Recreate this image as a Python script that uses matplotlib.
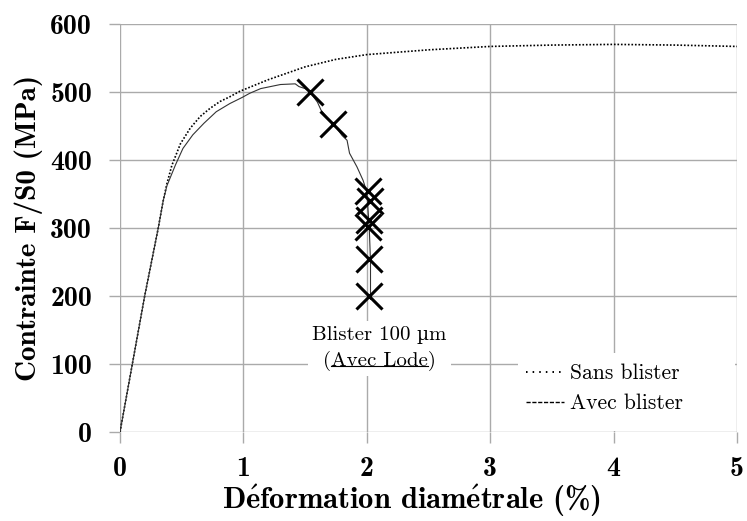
import numpy as np
import matplotlib
matplotlib.use('Agg')
import matplotlib.pyplot as plt
from matplotlib.lines import Line2D
from matplotlib.patches import Rectangle
from matplotlib.offsetbox import TextArea, HPacker, VPacker, AnnotationBbox

plt.rcParams['axes.unicode_minus'] = False
plt.rcParams['axes.formatter.use_mathtext'] = True
plt.rcParams['mathtext.fontset'] = 'custom'
plt.rcParams['mathtext.rm'] = 'cmb10'
plt.rcParams['mathtext.bf'] = 'cmb10'
plt.rcParams['mathtext.fallback'] = 'cm'

BOLD = ['cmb10', 'DejaVu Serif']
REG = ['cmr10', 'DejaVu Serif']

# courbe sans blister (pointillés)
sans_x = [0, 0.10, 0.20, 0.31, 0.35, 0.38, 0.42, 0.49, 0.57, 0.65, 0.73, 0.81,
          0.89, 0.97, 1.2, 1.5, 1.75, 2.0, 2.5, 3.0, 3.5, 4.0, 4.5, 5.0]
sans_y = [0, 100, 200, 300, 340, 365, 392, 424, 447, 464, 476, 486,
          493, 501, 518, 537, 548, 555, 562, 567, 569, 570, 569, 567]

# courbe avec blister (trait fin)
avec_x = [0, 0.10, 0.20, 0.31, 0.35, 0.38, 0.45, 0.51, 0.59, 0.68, 0.78, 0.89,
          0.99, 1.05, 1.14, 1.30, 1.42, 1.45, 1.50, 1.54, 1.60, 1.63, 1.68, 1.73,
          1.80, 1.84, 1.86, 1.92, 1.97, 2.00, 2.02, 2.03, 2.03]
avec_y = [0, 100, 200, 300, 340, 362, 393, 417, 437, 454, 471, 483,
          492, 498, 505, 511, 512, 508, 505, 500, 485, 473, 462, 453,
          436, 429, 410, 390, 370, 353, 300, 250, 195]

# points de rupture (croix)
croix_x = [1.54, 1.73, 2.01, 2.025, 2.02, 2.01, 2.02, 2.02]
croix_y = [500, 453, 355, 339, 312, 301, 255, 200]

xticks = [0, 1, 2, 3, 4, 5]
yticks = [0, 100, 200, 300, 400, 500, 600]
xlabels = ['0', '1', '2', '3', '4', '5']
ylabels = ['0', '100', '200', '300', '400', '500', '600']

fig = plt.figure(figsize=(7.47, 5.21), dpi=100)
ax = fig.add_axes([120/747, 89/521, 617/747, 408/521])

ax.plot(sans_x, sans_y, color='black', lw=1.2, ls=(0, (1, 1.1)), zorder=3)
ax.plot(avec_x, avec_y, color='#333333', lw=0.8, zorder=3)
ax.plot(croix_x, croix_y, ls='none', marker='x', ms=19, mew=2.2,
        color='black', zorder=4)

ax.set_xlim(0, 5)
ax.set_ylim(0, 600)
ax.set_xticks(xticks, labels=xlabels)
ax.set_yticks(yticks, labels=ylabels)
for s in ax.spines.values():
    s.set_visible(False)
ax.grid(True, color='#aaaaaa', lw=1.0)
ax.set_axisbelow(True)
ax.tick_params(axis='both', color='#aaaaaa', width=1.0, length=8)
ax.tick_params(axis='y', pad=12)
ax.tick_params(axis='x', pad=9)
for lab in ax.get_xticklabels() + ax.get_yticklabels():
    lab.set_family(BOLD)
    lab.set_fontsize(20)

ax.set_xlabel(r'$\mathrm{D\acute{e}formation\ diam\acute{e}trale\ (\%)}$',
              fontsize=22)
ax.set_ylabel('Contrainte F/S0 (MPa)', family=BOLD, fontsize=21)
ax.xaxis.set_label_coords(0.473, -0.122)
ax.yaxis.set_label_coords(-0.124, 0.5)

# annotation "Blister 100 µm (Avec Lode)"
reg15 = dict(family=REG, size=15)
ligne1 = HPacker(children=[TextArea('Blister 100', textprops=reg15),
                           HPacker(children=[TextArea('µ', textprops=dict(family='DejaVu Serif', size=13.5)),
                                             TextArea('m', textprops=reg15)],
                                   align='baseline', pad=0, sep=0)],
                 align='baseline', pad=0, sep=4)
ligne2 = TextArea('(Avec Lode)', textprops=reg15)
bloc = VPacker(children=[ligne1, ligne2], align='center', pad=0, sep=5)
ab = AnnotationBbox(bloc, (2.1, 123), xycoords='data', frameon=True, pad=0.35,
                    bboxprops=dict(facecolor='white', edgecolor='none'),
                    box_alignment=(0.5, 0.5), zorder=5)
ax.add_artist(ab)

# fond blanc de la légende
ax.add_patch(Rectangle((0.645, 0.003), 0.352, 0.19, transform=ax.transAxes,
                       facecolor='white', edgecolor='none', zorder=2.5))
handles = [Line2D([], [], color='black', lw=1.4, ls=(0, (0.8, 2.6))),
           Line2D([], [], color='black', lw=1.0, ls=(0, (3, 1.2)))]
leg = ax.legend(handles, ['Sans blister', 'Avec blister'], loc='lower left',
                bbox_to_anchor=(0.63, 0.004), frameon=False, borderaxespad=0,
                handlelength=1.8, handletextpad=0.28, borderpad=0.79,
                labelspacing=0.5, prop={'family': REG, 'size': 15.5})
leg.set_zorder(6)

# soulignement de "Avec Lode"
fig.canvas.draw()
r = fig.canvas.get_renderer()
bb = ligne2._text.get_window_extent(r)


def width_of(s):
    t = ax.text(0, 0, s, family=REG, fontsize=15)
    w = t.get_window_extent(r).width
    t.remove()
    return w


x0 = bb.x0 + width_of('(')
x1 = bb.x1 - width_of(')')
yb = bb.y0 + 4.5
inv = ax.transData.inverted()
p0 = inv.transform((x0, yb))
p1 = inv.transform((x1, yb))
ax.plot([p0[0], p1[0]], [p0[1], p1[1]], color='black', lw=0.8, zorder=6)

fig.savefig('out.png', dpi=100)
